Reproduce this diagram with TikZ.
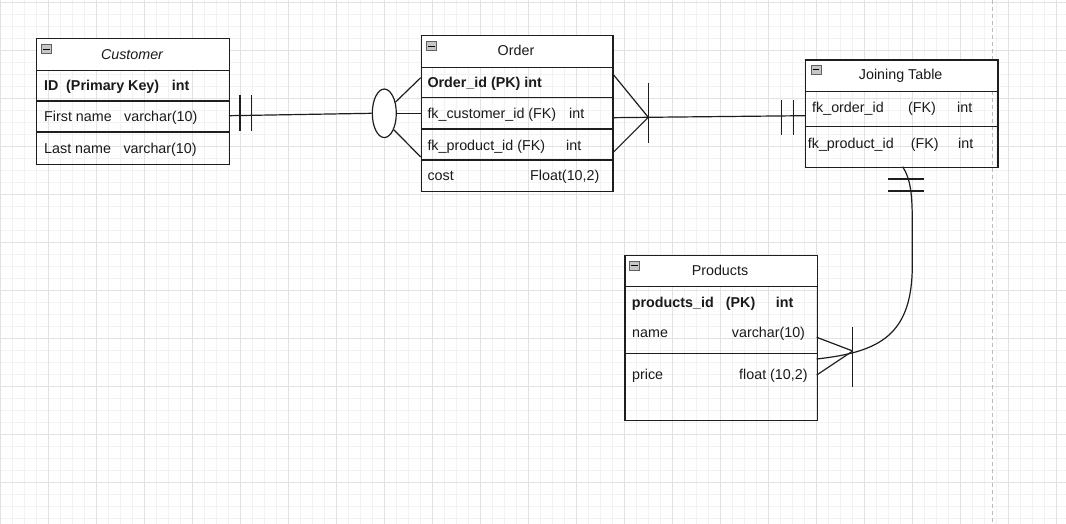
\documentclass[tikz,border=0pt]{standalone}
\usepackage{fontspec}
\setmainfont{Liberation Sans}
\usetikzlibrary{shapes.geometric,calc}
\definecolor{linec}{HTML}{1E1E1E}
\definecolor{txtc}{HTML}{1A1A1A}
\definecolor{gminor}{HTML}{F2F2F2}
\definecolor{gmajor}{HTML}{E2E2E2}
\definecolor{dashc}{HTML}{BBBBBB}
\newcommand\tabfont{\fontsize{14.3}{16}\selectfont}
\tikzset{
  tbl/.style={draw=linec, line width=1.3pt, inner sep=0pt, anchor=north west},
  hdr/.style={tbl, fill=white},
  rowline/.style={draw=linec, line width=1.3pt},
  conn/.style={draw=linec, line width=1.2pt},
  txt/.style={anchor=base west, inner sep=0pt, font=\tabfont, text=txtc},
  btxt/.style={txt, font=\tabfont\bfseries},
  ttl/.style={anchor=base, inner sep=0pt, font=\tabfont, text=txtc},
  icon/.style={draw=gray!75!black, fill=gray!45, line width=0.7pt, minimum width=10pt, minimum height=9.5pt, inner sep=0pt, anchor=north west},
  minus/.style={draw=black, line width=1.1pt},
  minorgrid/.style={draw=gminor, line width=0.8pt},
  majorgrid/.style={draw=gmajor, line width=0.9pt},
}
\begin{document}
\begin{tikzpicture}[x=1pt,y=-1pt]
\useasboundingbox (0,0) rectangle (1066,524);
\fill[white] (0,0) rectangle (1066,524);
% grid
\foreach \x in {0,12,...,1068} \draw[minorgrid] (\x,0) -- (\x,524);
\foreach \y in {2,14,...,524} \draw[minorgrid] (0,\y) -- (1066,\y);
\foreach \x in {0,48,...,1056} \draw[majorgrid] (\x,0) -- (\x,524);
\foreach \y in {2,50,...,482} \draw[majorgrid] (0,\y) -- (1066,\y);
\draw[dashc, line width=0.8pt, dash pattern=on 4pt off 3pt] (992,0) -- (992,524);

% ---------- Customer ----------
\node[hdr, minimum width=193pt, minimum height=32pt] (custH) at (36,38) {};
\node[tbl, minimum width=193pt, minimum height=94pt] (cust) at (36,70) {};
\draw[rowline] (cust.west |- 0,101) -- (cust.east |- 0,101);
\draw[rowline] (cust.west |- 0,132) -- (cust.east |- 0,132);
\node[icon] (custI) at (41,44) {};
\draw[minus] ($(custI.west)+(2,0)$) -- ($(custI.east)+(-2,0)$);
\node[ttl, font=\tabfont\itshape] (custT) at (132,59.3) {Customer};
\node[btxt] (c1a) at (44,91) {ID};
\node[btxt] (c1b) at (66,91) {(Primary Key)};
\node[btxt] (c1c) at (171.7,91) {int};
\node[txt] (c2a) at (44,122) {First name};
\node[txt] (c2b) at (124,122) {varchar(10)};
\node[txt] (c3a) at (44,154) {Last name};
\node[txt] (c3b) at (123.3,154) {varchar(10)};

% ---------- Order ----------
\node[hdr, minimum width=191.3pt, minimum height=31.7pt] (ordH) at (421,35) {};
\node[tbl, minimum width=191.3pt, minimum height=124.3pt] (ord) at (421,66.7) {};
\draw[rowline] (ord.west |- 0,97.7) -- (ord.east |- 0,97.7);
\draw[rowline] (ord.west |- 0,129) -- (ord.east |- 0,129);
\draw[rowline] (ord.west |- 0,160) -- (ord.east |- 0,160);
\node[icon] (ordI) at (426,41) {};
\draw[minus] ($(ordI.west)+(2,0)$) -- ($(ordI.east)+(-2,0)$);
\node[ttl] (ordT) at (516,56) {Order};
\node[btxt] (o1) at (427.3,87.7) {Order\_id (PK) int};
\node[txt] (o2a) at (427.3,119) {fk\_customer\_id (FK)};
\node[txt] (o2b) at (569,119) {int};
\node[txt] (o3a) at (427.3,150) {fk\_product\_id (FK)};
\node[txt] (o3b) at (566,150) {int};
\node[txt] (o4a) at (427.3,181) {cost};
\node[txt] (o4b) at (530,181) {Float(10,2)};

% ---------- Joining Table ----------
\node[hdr, minimum width=192.3pt, minimum height=31.4pt] (joinH) at (805,59.3) {};
\node[tbl, minimum width=192.3pt, minimum height=76.3pt] (join) at (805,90.7) {};
\draw[rowline] (join.west |- 0,126.3) -- (join.east |- 0,126.3);
\node[icon] (joinI) at (810.5,64.7) {};
\draw[minus] ($(joinI.west)+(2,0)$) -- ($(joinI.east)+(-2,0)$);
\node[ttl] (joinT) at (900.7,79.3) {Joining Table};
\node[txt] (j1a) at (812,112.3) {fk\_order\_id};
\node[txt] (j1b) at (908,112.3) {(FK)};
\node[txt] (j1c) at (957,112.3) {int};
\node[txt] (j2a) at (807.7,148.3) {fk\_product\_id};
\node[txt] (j2b) at (910.7,148.3) {(FK)};
\node[txt] (j2c) at (958,148.3) {int};

% ---------- Products ----------
\node[hdr, minimum width=192.4pt, minimum height=31pt] (prodH) at (624.3,254.7) {};
\node[tbl, minimum width=192.4pt, minimum height=134.3pt] (prod) at (624.3,285.7) {};
\draw[rowline] (prod.west |- 0,353.3) -- (prod.east |- 0,353.3);
\node[icon] (prodI) at (629.3,260.7) {};
\draw[minus] ($(prodI.west)+(2,0)$) -- ($(prodI.east)+(-2,0)$);
\node[ttl] (prodT) at (720,275.7) {Products};
\node[btxt] (p1a) at (631.7,307.3) {products\_id};
\node[btxt] (p1b) at (725.7,307.3) {(PK)};
\node[btxt] (p1c) at (775.7,307.3) {int};
\node[txt] (p2a) at (632,337.7) {name};
\node[txt] (p2b) at (731.7,337.7) {varchar(10)};
\node[txt] (p3a) at (632,379) {price};
\node[txt] (p3b) at (739,379) {float (10,2)};

% ---------- Customer -- Order ----------
\node[ellipse, draw=linec, line width=1.2pt, fill=white, minimum width=24pt, minimum height=48.5pt, inner sep=0pt] (ell) at (384.3,113.3) {};
\coordinate (custR) at (229,115.7);
\draw[conn] (custR) -- (ell.west);
\draw[conn] (240,95) -- (240,130.7);
\draw[conn] (251.7,95) -- (251.7,130.7);
\coordinate (oL1) at (420.7,77.7);
\coordinate (oL2) at (420.7,113.3);
\coordinate (oL3) at (420.7,157);
\draw[conn] (ell.45) -- (oL1);
\draw[conn] (ell.east) -- (oL2);
\draw[conn] (ell.-60) -- (oL3);

% ---------- Order -- Joining ----------
\coordinate (oR1) at (612.3,73.3);
\coordinate (oR2) at (612.3,117.7);
\coordinate (oR3) at (612.3,153.3);
\coordinate (oF) at (648.3,117.3);
\coordinate (jL) at (805,115.7);
\draw[conn] (oR1) -- (oF);
\draw[conn] (oR3) -- (oF);
\draw[conn] (oR2) -- (oF) -- (jL);
\draw[conn] (648.3,83.3) -- (648.3,143.3);
\draw[conn] (781.7,100) -- (781.7,135);
\draw[conn] (793.7,100) -- (793.7,135);

% ---------- Joining -- Products ----------
\coordinate (jB) at (902.7,166.7);
\coordinate (pR) at (816.7,359);
\coordinate (pR1) at (816.7,337.3);
\coordinate (pR3) at (816.7,375);
\coordinate (pF) at (852.7,351);
\draw[conn] (jB) .. controls (911,180) and (912.3,195) .. (912.3,225)
  -- (912.3,265) .. controls (912.3,335) and (880,352) .. (pR);
\draw[conn] (888.3,179) -- (924.3,179);
\draw[conn] (888.3,191) -- (924.3,191);
\draw[conn] (pR1) -- (pF);
\draw[conn] (pR3) -- (pF);
\draw[conn] (852.7,326.7) -- (852.7,386.7);
\end{tikzpicture}
\end{document}
